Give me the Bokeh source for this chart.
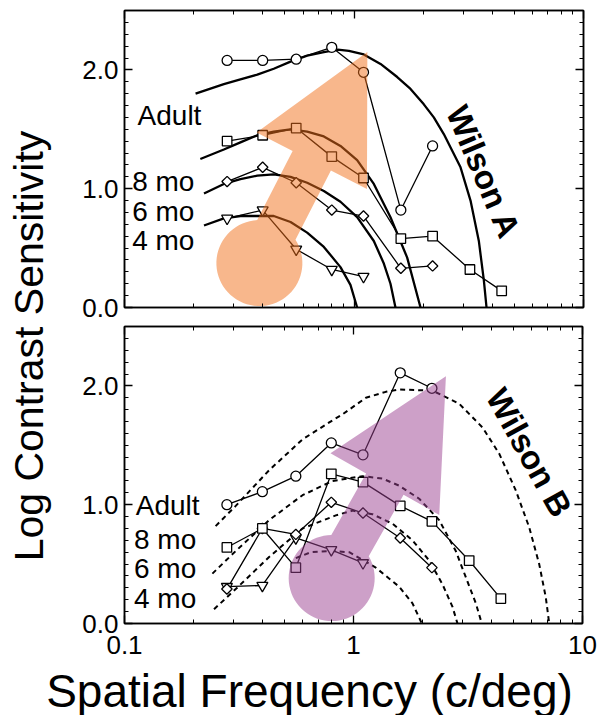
import math
from bokeh.plotting import figure
from bokeh.layouts import column, row
from bokeh.models import (Range1d, FixedTicker, SingleIntervalTicker, LogAxis, LinearAxis,
                          CustomJSTickFormatter, PrintfTickFormatter, Label)
from bokeh.core.properties import value
from bokeh.embed import file_html
from bokeh.resources import INLINE

FONT = "Liberation Sans"

# ---------------- data ----------------
freqs = [0.28, 0.4, 0.56, 0.8, 1.1, 1.6, 2.2, 3.2, 4.4]
groups = ["Adult", "8 mo", "6 mo", "4 mo"]

# Panel A (Wilson A) measured sensitivities
a_adult = [2.08, 2.08, 2.09, 2.19, 1.98, 0.82, 1.36]
a_8mo = [1.40, 1.45, 1.51, 1.27, 1.09, 0.58, 0.60, 0.32, 0.14]
a_6mo = [1.06, 1.18, 1.05, 0.82, 0.77, 0.33, 0.35]
a_4mo = [0.75, 0.82, 0.49, 0.32, 0.26]

# Panel B (Wilson B) measured sensitivities
b_adult = [1.00, 1.11, 1.24, 1.52, 1.42, 2.11, 1.98]
b_8mo = [0.64, 0.80, 0.47, 1.26, 1.19, 0.99, 0.86, 0.53, 0.21]
b_6mo = [0.29, 0.80, 0.75, 1.02, 0.93, 0.72, 0.47]
b_4mo = [0.31, 0.32, 0.72, 0.62, 0.51]

# Model curves, panel A (solid)
fa_adult_x = [0.204, 0.271, 0.320, 0.379, 0.447, 0.529, 0.625, 0.739, 0.85, 0.95, 1.103, 1.305,
              1.543, 1.763, 2.015, 2.227, 2.462, 2.679, 2.912, 3.219, 3.499, 3.679, 3.78]
fa_adult_y = [1.80, 1.88, 1.92, 1.96, 2.01, 2.07, 2.12, 2.15, 2.17, 2.16, 2.13, 2.05,
              1.94, 1.84, 1.71, 1.60, 1.46, 1.32, 1.18, 0.90, 0.56, 0.23, 0.00]
fa_8mo_x = [0.214, 0.271, 0.320, 0.379, 0.447, 0.529, 0.625, 0.739, 0.873, 1.032, 1.220, 1.442, 1.705, 1.949]
fa_8mo_y = [1.25, 1.33, 1.39, 1.45, 1.48, 1.50, 1.48, 1.44, 1.36, 1.24, 1.04, 0.76, 0.42, 0.00]
fa_6mo_x = [0.222, 0.271, 0.320, 0.379, 0.447, 0.529, 0.625, 0.739, 0.873, 1.032, 1.220, 1.349, 1.442, 1.516]
fa_6mo_y = [0.96, 1.04, 1.08, 1.11, 1.12, 1.10, 1.05, 0.98, 0.89, 0.76, 0.56, 0.37, 0.20, 0.00]
fa_4mo_x = [0.222, 0.271, 0.320, 0.379, 0.447, 0.529, 0.625, 0.739, 0.873, 0.965, 1.032]
fa_4mo_y = [0.69, 0.75, 0.77, 0.77, 0.77, 0.72, 0.63, 0.51, 0.34, 0.19, 0.00]

# Model curves, panel B (dashed)
fb_adult_x = [0.250, 0.306, 0.428, 0.599, 0.81, 0.895, 1.132, 1.384, 1.583, 2.213, 2.894, 3.659,
              4.328, 5.113, 5.851, 6.470, 6.914, 7.155]
fb_adult_y = [0.82, 0.99, 1.29, 1.55, 1.71, 1.76, 1.90, 1.95, 1.97, 1.96, 1.85, 1.65,
              1.43, 1.12, 0.81, 0.50, 0.22, 0.00]
fb_8mo_x = [0.242, 0.306, 0.428, 0.599, 0.81, 1.095, 1.339, 1.583, 1.936, 2.367, 2.797, 3.093, 3.421, 3.633]
fb_8mo_y = [0.42, 0.61, 0.87, 1.08, 1.20, 1.24, 1.22, 1.16, 1.05, 0.87, 0.61, 0.39, 0.17, 0.00]
fb_6mo_x = [0.246, 0.306, 0.428, 0.599, 0.837, 0.99, 1.21, 1.48, 1.81, 2.141, 2.447, 2.706, 2.845]
fb_6mo_y = [0.12, 0.29, 0.56, 0.80, 0.91, 0.95, 0.92, 0.84, 0.70, 0.53, 0.33, 0.14, 0.00]
fb_4mo_x = [0.56, 0.65, 0.81, 0.958, 1.251, 1.583, 1.81, 1.988]
fb_4mo_y = [0.55, 0.60, 0.61, 0.60, 0.47, 0.31, 0.17, 0.00]

# group label positions
a_label_x = [0.114, 0.108, 0.108, 0.108]
a_label_y = [1.62, 1.06, 0.81, 0.56]
b_label_x = [0.112, 0.110, 0.110, 0.110]
b_label_y = [0.99, 0.71, 0.46, 0.21]

# panel names
a_name = ("Wilson A", 3.67, 1.14, -67.0)
b_name = ("Wilson B", 5.85, 1.44, -61.0)

# axis titles
y_title = "Log Contrast Sensitivity"
x_title = "Spatial Frequency (c/deg)"

# arrow decorations: centre (freq, value), direction deg, px sizes
a_arrow = dict(cx=0.387, cy=0.374, ang=62.9, r=43, w=43, shaft=115, head_len=122, head_w=124,
               color="#F16F19")
b_arrow = dict(cx=0.803, cy=0.382, ang=60.5, r=43, w=43, shaft=108, head_len=124, head_w=125,
               color="#9B4191")

x_major = [0.1, 1, 10]
x_minor = [m * 10 ** e for e in (-1, 0) for m in range(2, 10)]

MARK = [dict(marker="circle", size=10, angle=0.0),
        dict(marker="square", size=9.5, angle=0.0),
        dict(marker="square", size=7.4, angle=math.pi / 4),
        dict(marker="inverted_triangle", size=11, angle=0.0)]

STRIP_W = 54
TOP_H = 10 + 297 + 15
BOT_H = 4 + 297 + 42
TITLE_H = 715 - TOP_H - BOT_H


def arrow_outline(a, px_dec, px_unit):
    phi = math.radians(a["ang"])
    d = (math.cos(phi), math.sin(phi))
    n = (-math.sin(phi), math.cos(phi))
    r = a["r"]
    half = a["w"] / 2
    u0 = math.sqrt(r * r - half * half)
    local = [(a["shaft"] + a["head_len"], 0), (a["shaft"], a["head_w"] / 2),
             (a["shaft"], half), (u0, half)]
    th0 = math.atan2(half, u0)
    N = 60
    for k in range(1, N):
        th = th0 + (2 * math.pi - 2 * th0) * k / N
        local.append((r * math.cos(th), r * math.sin(th)))
    local += [(u0, -half), (a["shaft"], -half), (a["shaft"], -a["head_w"] / 2)]
    xs, ys = [], []
    for u, v in local:
        dx = u * d[0] + v * n[0]
        dy = u * d[1] + v * n[1]
        xs.append(a["cx"] * 10 ** (dx / px_dec))
        ys.append(a["cy"] + dy / px_unit)
    return xs, ys


def style_axes(p, show_x):
    xt = FixedTicker(ticks=x_major, minor_ticks=x_minor)
    yt = SingleIntervalTicker(interval=1, num_minor_ticks=10)
    p.xaxis.ticker = xt
    p.yaxis.ticker = yt
    p.add_layout(LogAxis(ticker=xt), "above")
    p.add_layout(LinearAxis(ticker=yt), "right")
    for ax in p.axis:
        ax.major_tick_in = 8
        ax.major_tick_out = 0
        ax.minor_tick_in = 4
        ax.minor_tick_out = 0
        ax.axis_line_color = "black"
        ax.axis_line_width = 1.5
        ax.major_tick_line_color = "black"
        ax.minor_tick_line_color = "black"
        ax.major_tick_line_width = 1.3
        ax.minor_tick_line_width = 1
        ax.major_label_text_font = FONT
        ax.major_label_text_font_size = "1px"
        ax.major_label_standoff = 0
        ax.major_label_text_color = None
    ly = p.left[0]
    ly.major_label_text_font_size = "26px"
    ly.major_label_standoff = 6
    ly.major_label_text_color = "black"
    ly.formatter = PrintfTickFormatter(format="%.1f")
    if show_x:
        bx = p.below[0]
        bx.major_label_text_font_size = "26px"
        bx.major_label_standoff = 12
        bx.major_label_text_color = "black"
        bx.formatter = CustomJSTickFormatter(code="return tick < 0.5 ? tick.toFixed(1) : tick.toFixed(0);")
    p.xgrid.visible = False
    p.ygrid.visible = False
    p.outline_line_color = "black"
    p.outline_line_width = 1.5


def make_panel(fw, fh, bl, br, bt, bb, fits, dash, data, label_x, label_y, name, arrow, show_x):
    p = figure(x_axis_type="log", x_range=Range1d(0.1, 10), y_range=Range1d(0, 2.5),
               frame_width=fw, frame_height=fh, min_border_left=bl, min_border_right=br,
               min_border_top=bt, min_border_bottom=bb,
               output_backend="svg", toolbar_location=None, background_fill_color="white")
    style_axes(p, show_x)
    for fx, fy in fits:
        if dash:
            p.line(fx, fy, line_color="black", line_width=2.0, line_dash="5 4")
        else:
            p.line(fx, fy, line_color="black", line_width=2.3)
    for vals in data:
        p.line(freqs[:len(vals)], vals, line_color="black", line_width=1.3)
    # youngest group first so older groups' markers sit on top
    for vals, m in reversed(list(zip(data, MARK))):
        p.scatter(freqs[:len(vals)], vals, marker=m["marker"], size=m["size"], angle=m["angle"],
                  fill_color="white", line_color="black", line_width=1.3)
    p.text(label_x, label_y, text=groups, text_font=value(FONT),
           text_font_size="28px", text_align="left", text_baseline="middle", text_color="black")
    p.text([name[1]], [name[2]], text=[name[0]], angle=math.radians(name[3]),
           text_font=value(FONT), text_font_size="33px", text_font_style="bold",
           text_align="center", text_baseline="middle", text_color="black")
    xs, ys = arrow_outline(arrow, fw / 2.0, fh / 2.5)
    p.patch(xs, ys, fill_color=arrow["color"], fill_alpha=0.5, line_color=None)
    return p


top = make_panel(459, 297, 124 - STRIP_W, 24, 10, 15,
                 [(fa_adult_x, fa_adult_y), (fa_8mo_x, fa_8mo_y), (fa_6mo_x, fa_6mo_y), (fa_4mo_x, fa_4mo_y)],
                 False, [a_adult, a_8mo, a_6mo, a_4mo], a_label_x, a_label_y, a_name, a_arrow, False)
bottom = make_panel(458, 297, 122 - STRIP_W, 27, 4, 42,
                    [(fb_adult_x, fb_adult_y), (fb_8mo_x, fb_8mo_y), (fb_6mo_x, fb_6mo_y), (fb_4mo_x, fb_4mo_y)],
                    True, [b_adult, b_8mo, b_6mo, b_4mo], b_label_x, b_label_y, b_name, b_arrow, True)


def blank(w, h):
    p = figure(width=w, height=h, x_range=Range1d(0, w), y_range=Range1d(0, h),
               min_border=0, x_axis_location=None, y_axis_location=None,
               output_backend="svg", toolbar_location=None)
    p.xgrid.visible = False
    p.ygrid.visible = False
    p.outline_line_color = None
    return p


strip = blank(STRIP_W, TOP_H + BOT_H)
strip.add_layout(Label(x=28.5, y=TOP_H + BOT_H - 345.5, text=y_title, angle=math.pi / 2,
                       text_font=FONT, text_font_size="41px", text_align="center",
                       text_baseline="middle", text_color="black"))

titlefig = blank(607, TITLE_H)
titlefig.add_layout(Label(x=309, y=TITLE_H - (690 - TOP_H - BOT_H), text=x_title, text_font=FONT,
                          text_font_size="46px", text_align="center", text_baseline="middle",
                          text_color="black"))

layout = column(row(strip, column(top, bottom)), titlefig)
open("out.html", "w").write(file_html(layout, INLINE))
